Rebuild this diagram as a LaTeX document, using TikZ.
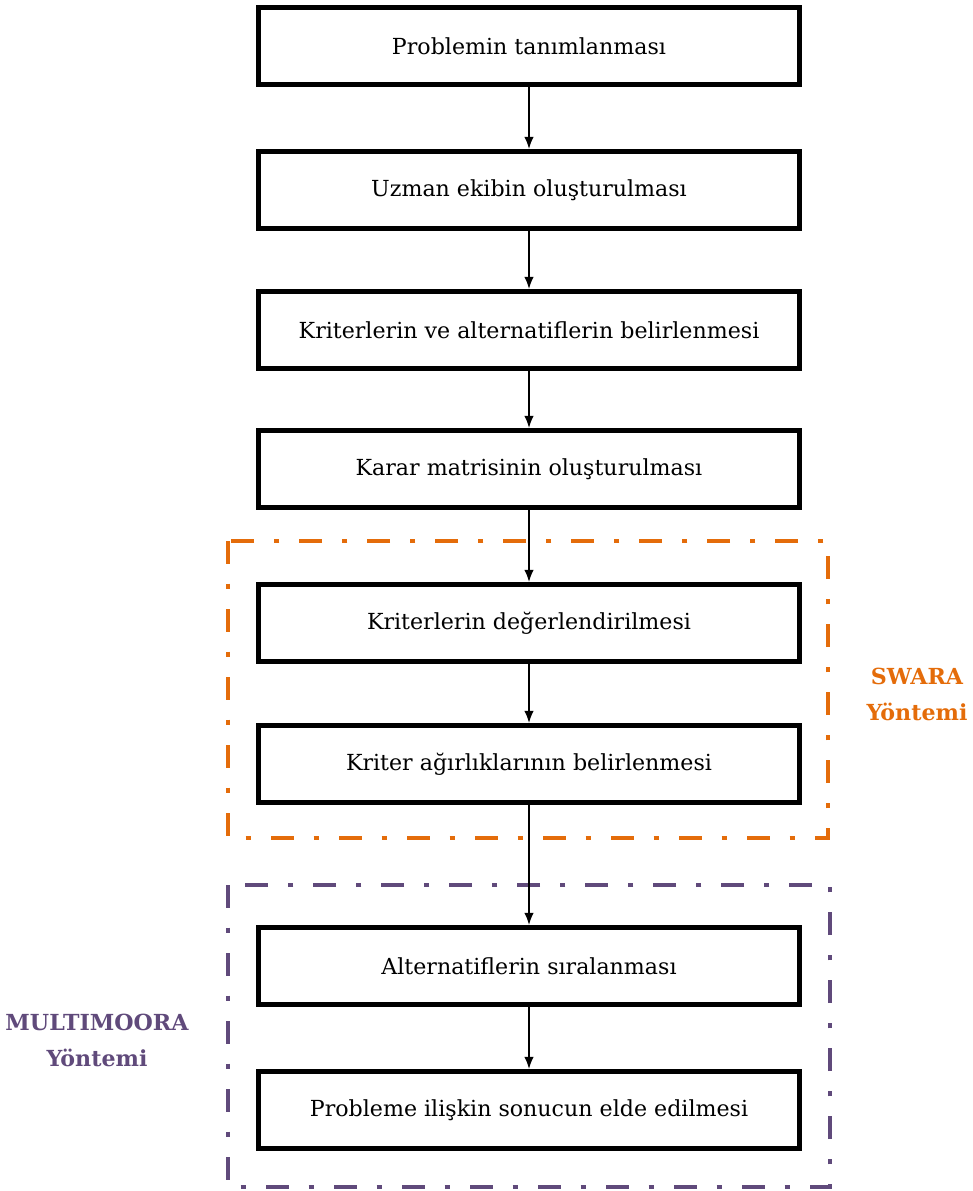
\documentclass[tikz,border=0pt]{standalone}
\usepackage{fontspec}
\setmainfont{DejaVu Serif}
\usetikzlibrary{arrows.meta,positioning}
\definecolor{swaraorange}{HTML}{E46C0A}
\definecolor{moorapurple}{HTML}{604A7B}

\begin{document}
\begin{tikzpicture}[
            x=0.75pt,y=-0.75pt,
            stepbox/.style={draw,rectangle,line width=3.6pt,minimum width=406pt,minimum height=58pt,align=center,font=\fontsize{16.6}{20}\selectfont},
            methodframe/.style={line width=3pt,dash pattern=on 17pt off 15pt on 4pt off 15pt},
            methodlab/.style={align=center,font=\bfseries\fontsize{16.6}{27}\selectfont},
            flow/.style={draw,-{Latex[length=9pt,width=7pt]},line width=1pt}
          ]
          \useasboundingbox (0,0) rectangle (973,1191);

          %steps
          \node[stepbox] (b1) at (529,46) {Problemin tanımlanması};
          \node[stepbox] (b2) at (529,190) {Uzman ekibin oluşturulması};
          \node[stepbox] (b3) at (529,330) {Kriterlerin ve alternatiflerin belirlenmesi};
          \node[stepbox] (b4) at (529,469) {Karar matrisinin oluşturulması};
          \node[stepbox] (b5) at (529,623) {Kriterlerin değerlendirilmesi};
          \node[stepbox] (b6) at (529,764) {Kriter ağırlıklarının belirlenmesi};
          \node[stepbox] (b7) at (529,966) {Alternatiflerin sıralanması};
          \node[stepbox] (b8) at (529,1110) {Probleme ilişkin sonucun elde edilmesi};

          %method frames
          \draw[methodframe,swaraorange] (228,541) rectangle (828,838);
          \draw[methodframe,moorapurple] (228,885) rectangle (830,1187);

          %labels
          \node[methodlab,text=swaraorange] (swara) at (917,694) {SWARA\\Yöntemi};
          \node[methodlab,text=moorapurple] (moora) at (97,1040) {MULTIMOORA\\Yöntemi};

          %arrows
          \path[flow]
          (b1) edge (b2)
          (b2) edge (b3)
          (b3) edge (b4)
          (b4) edge (b5)
          (b5) edge (b6)
          (b6) edge (b7)
          (b7) edge (b8)
          ;

      \end{tikzpicture}
\end{document}
